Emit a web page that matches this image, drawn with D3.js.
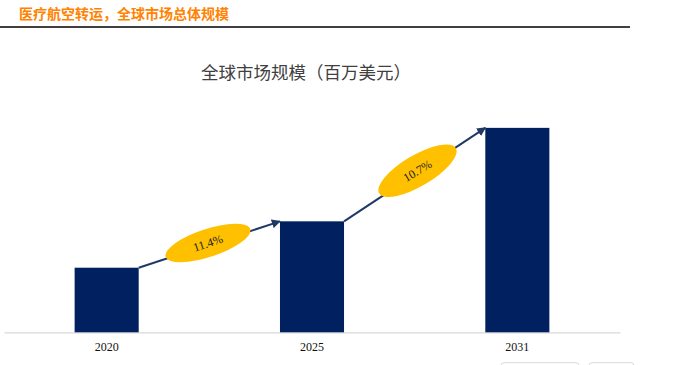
<!DOCTYPE html>
<html><head><meta charset="utf-8">
<script src="https://cdn.jsdelivr.net/npm/d3@7"></script>
<style>body{margin:0;background:#fff;}svg{display:block;}</style>
</head><body>
<svg id="c" width="684" height="365"></svg>
<script>
const pageTitle = "医疗航空转运，全球市场总体规模";
const chartTitle = "全球市场规模（百万美元）";
const years = ["2020", "2025", "2031"];
const values = [1000, 1718, 3165];
const growthLabels = ["11.4%", "10.7%"];

const svg = d3.select("#c");
const navy = "#002060", lineCol = "#1f3864", gold = "#ffc000";

svg.append("text").attr("x", 19).attr("y", 19)
  .attr("font-family", "Noto Sans CJK SC").attr("font-weight", "bold")
  .attr("font-size", 14).attr("fill", "#ff8200").text(pageTitle);
svg.append("line").attr("x1", 0).attr("x2", 630).attr("y1", 27).attr("y2", 27)
  .attr("stroke", "#000").attr("stroke-width", 1.6);

svg.append("text").attr("x", 306).attr("y", 79).attr("text-anchor", "middle")
  .attr("font-family", "Noto Sans CJK SC").attr("font-size", 17.5).attr("fill", "#404040")
  .text(chartTitle);

const x = d3.scaleBand().domain(years).range([4, 620]).paddingInner(0.688).paddingOuter(0.344);
const y = d3.scaleLinear().domain([0, 3200]).range([332.3, 125.6]);

const axis = svg.append("g").attr("transform", "translate(0,332.3)")
  .call(d3.axisBottom(x).tickSize(0).tickPadding(10));
axis.select(".domain").attr("stroke", "#d9d9d9").attr("stroke-width", 1.2);
axis.selectAll("text").attr("font-family", "Liberation Serif").attr("font-size", 12).attr("fill", "#111");

svg.selectAll("rect.bar").data(years).join("rect").attr("class", "bar")
  .attr("x", d => x(d)).attr("width", x.bandwidth())
  .attr("y", (d, i) => y(values[i])).attr("height", (d, i) => y(0) - y(values[i]))
  .attr("fill", navy);

svg.append("defs").append("marker").attr("id", "ah")
  .attr("viewBox", "0 0 10 10").attr("refX", 9).attr("refY", 5)
  .attr("markerWidth", 4.5).attr("markerHeight", 4.5).attr("orient", "auto")
  .append("path").attr("d", "M0,0 L10,5 L0,10 z").attr("fill", lineCol);

const tPos = [0.49, 0.52];
for (let i = 0; i < years.length - 1; i++) {
  const x1 = x(years[i]) + x.bandwidth(), y1 = y(values[i]);
  const x2 = x(years[i + 1]), y2 = y(values[i + 1]);
  svg.append("line").attr("x1", x1).attr("y1", y1).attr("x2", x2).attr("y2", y2)
    .attr("stroke", lineCol).attr("stroke-width", 2).attr("marker-end", "url(#ah)");
  const cx = x1 + (x2 - x1) * tPos[i], cy = y1 + (y2 - y1) * tPos[i] - 2;
  const ang = Math.atan2(y2 - y1, x2 - x1) * 180 / Math.PI;
  const ea = i === 0 ? ang : ang + 3;
  const g = svg.append("g").attr("transform", `translate(${cx},${cy}) rotate(${ea})`);
  g.append("ellipse").attr("rx", 44.5).attr("ry", i === 0 ? 14 : 15.5).attr("fill", gold);
  g.append("text").attr("text-anchor", "middle").attr("dy", "0.35em")
    .attr("font-family", "Liberation Serif").attr("font-size", 12).attr("fill", "#222")
    .text(growthLabels[i]);
}

// small grey outlined boxes at bottom right
[[501, 78], [589, 45]].forEach(([bx, bw]) => {
  svg.append("rect").attr("x", bx).attr("y", 362.7).attr("width", bw).attr("height", 10)
    .attr("rx", 3).attr("fill", "none").attr("stroke", "#d9d9d9");
});
</script>
</body></html>
